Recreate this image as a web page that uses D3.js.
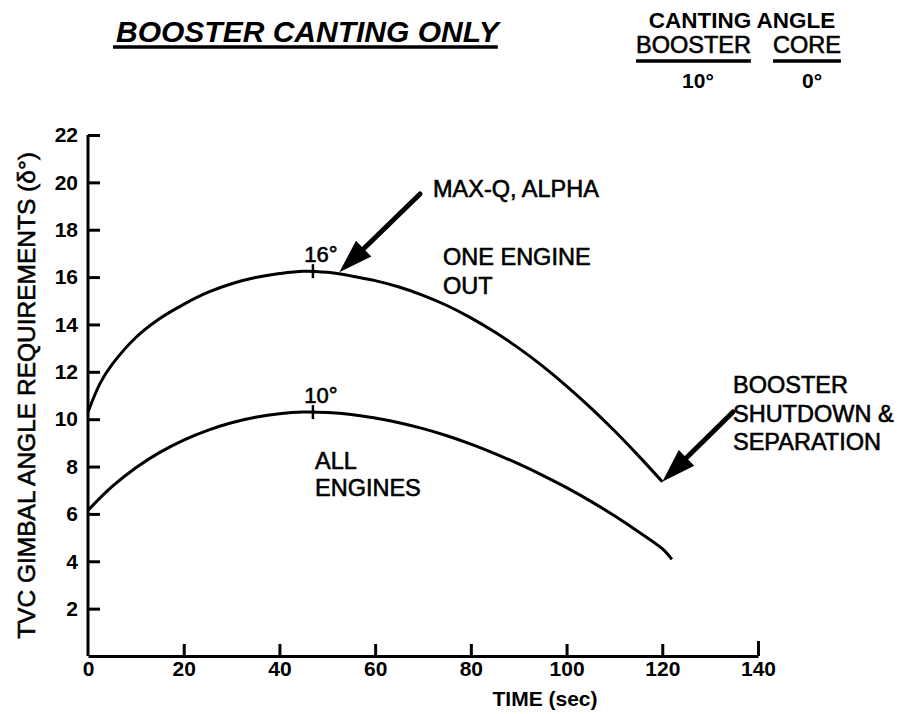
<!DOCTYPE html>
<html>
<head>
<meta charset="utf-8">
<script src="https://cdn.jsdelivr.net/npm/d3@7"></script>
<style>
  body { margin: 0; background: #fff; }
  svg { display: block; }
  text { font-family: "Liberation Sans", Arial, Helvetica, sans-serif; fill: #000; }
  .heavy { stroke: #000; stroke-width: 0.6px; }
</style>
</head>
<body>
<div id="chart"></div>
<script>
// ---- data ----
const timeOneOut = [0, 2.5, 5, 10, 15, 20, 25, 30, 35, 40, 45, 50, 55, 60, 65, 70, 75, 80, 85, 90, 95, 100, 105, 110, 115, 120];
const gimbalOneOut = [10.3, 11.5, 12.3, 13.45, 14.25, 14.85, 15.35, 15.72, 15.98, 16.15, 16.25, 16.2, 16.05, 15.85, 15.58, 15.23, 14.8, 14.28, 13.68, 13.0, 12.24, 11.4, 10.49, 9.51, 8.46, 7.36];

const timeAllEngines = [0, 5, 10, 15, 20, 25, 30, 35, 40, 45, 50, 55, 60, 65, 70, 75, 80, 85, 90, 95, 100, 105, 110, 115, 120, 122];
const gimbalAllEngines = [6.15, 7.15, 7.95, 8.6, 9.12, 9.53, 9.85, 10.08, 10.23, 10.3, 10.28, 10.2, 10.05, 9.85, 9.6, 9.3, 8.95, 8.55, 8.11, 7.63, 7.11, 6.54, 5.92, 5.25, 4.53, 4.08];

const xTicks = [0, 20, 40, 60, 80, 100, 120, 140];
const yTicks = [2, 4, 6, 8, 10, 12, 14, 16, 18, 20, 22];

// peak markers: [time, value, label]
const peaks = [
    [47, 16.25, "16°"],
    [47, 10.3, "10°"]
];

// ---- layout ----
const width = 901, height = 714;
const margin = { left: 88, right: 143, top: 135, bottom: 58 };

let svg = d3.select("#chart").append("svg")
    .attr("width", width)
    .attr("height", height);

let x = d3.scaleLinear().domain([0, 140]).range([margin.left, width - margin.right]);
let y = d3.scaleLinear().domain([0, 22]).range([height - margin.bottom, margin.top]);

const AXIS_W = 3;

// y axis (ticks point inward)
let yAxis = svg.append("g")
    .attr("transform", `translate(${x(0)},0)`)
    .call(d3.axisLeft(y).tickValues(yTicks).tickSizeInner(-12).tickSizeOuter(0).tickPadding(10));
yAxis.select(".domain").attr("stroke-width", AXIS_W).attr("d", `M0,${y(0)}V${y(22)}`);
yAxis.selectAll(".tick line").attr("stroke-width", AXIS_W);
yAxis.selectAll(".tick text")
    .style("font-size", "21px").style("font-weight", "bold")
    .style("font-family", "'Liberation Sans', Arial, sans-serif");

// x axis
let xAxis = svg.append("g")
    .attr("transform", `translate(0,${y(0)})`)
    .call(d3.axisBottom(x).tickValues(xTicks).tickSizeInner(-12).tickSizeOuter(0).tickPadding(5));
xAxis.select(".domain").attr("stroke-width", AXIS_W);
xAxis.selectAll(".tick line").attr("stroke-width", AXIS_W)
    .attr("y2", d => d === 140 ? -15 : (d === 0 ? 0 : -12));
xAxis.selectAll(".tick text")
    .style("font-size", "21px").style("font-weight", "bold")
    .style("font-family", "'Liberation Sans', Arial, sans-serif");

// axis titles
svg.append("text")
    .attr("class", "heavy")
    .attr("transform", `translate(35,${(y(0) + y(22)) / 2}) rotate(-90)`)
    .attr("text-anchor", "middle")
    .style("font-size", "24.5px")
    .text("TVC GIMBAL ANGLE REQUIREMENTS (δ°)");

svg.append("text")
    .attr("x", 545).attr("y", 706)
    .attr("text-anchor", "middle")
    .style("font-size", "21px").style("font-weight", "bold")
    .text("TIME (sec)");

// ---- curves ----
let line = d3.line()
    .x(d => x(d[0]))
    .y(d => y(d[1]))
    .curve(d3.curveCatmullRom);

let upper = timeOneOut.map((t, i) => [t, gimbalOneOut[i]]);
let lower = timeAllEngines.map((t, i) => [t, gimbalAllEngines[i]]);

svg.append("g").selectAll(".curve")
    .data([upper, lower])
    .enter()
    .append("path")
    .attr("class", "curve")
    .attr("d", line)
    .attr("fill", "none")
    .attr("stroke", "black")
    .attr("stroke-width", 3);

// peak tick marks + labels
let peak = svg.append("g").selectAll(".peak").data(peaks).enter().append("g");
peak.append("line")
    .attr("x1", d => x(d[0])).attr("x2", d => x(d[0]))
    .attr("y1", d => y(d[1]) - 7).attr("y2", d => y(d[1]) + 7)
    .attr("stroke", "black").attr("stroke-width", 2.5);
peak.append("text")
    .attr("class", "heavy")
    .attr("x", d => x(d[0]) + 8).attr("y", d => y(d[1]) - 9)
    .attr("text-anchor", "middle")
    .style("font-size", "22px")
    .text(d => d[2]);

// ---- annotations ----
function multiLine(lines, x0, y0, lh, size) {
    let t = svg.append("text").attr("class", "heavy")
        .attr("x", x0).attr("y", y0).style("font-size", size + "px");
    lines.forEach((s, i) => t.append("tspan").attr("x", x0).attr("dy", i ? lh : 0).text(s));
    return t;
}

multiLine(["MAX-Q, ALPHA"], 433, 197, 0, 23.5);
multiLine(["ONE ENGINE", "OUT"], 443, 265, 29, 23.5);
multiLine(["ALL", "ENGINES"], 315, 469, 27, 23.5);
multiLine(["BOOSTER", "SHUTDOWN &", "SEPARATION"], 733, 393, 28.5, 23.5);

// arrows
function arrow(x1, y1, x2, y2) {
    let ang = Math.atan2(y2 - y1, x2 - x1);
    let headLen = 34, headW = 11;
    let bx = x2 - headLen * Math.cos(ang), by = y2 - headLen * Math.sin(ang);
    svg.append("line")
        .attr("x1", x1).attr("y1", y1).attr("x2", bx).attr("y2", by)
        .attr("stroke", "black").attr("stroke-width", 5).attr("stroke-linecap", "round");
    let px = -Math.sin(ang), py = Math.cos(ang);
    svg.append("path")
        .attr("d", `M${x2},${y2}L${bx + px * headW},${by + py * headW}L${bx - px * headW},${by - py * headW}Z`)
        .attr("fill", "black");
}
arrow(420, 194, x(52.5), y(16.2));
arrow(733, 412, x(120), y(7.36));

// ---- titles ----
function underline(textSel, yy, sw, x1, x2) {
    let bb = textSel.node().getBBox();
    svg.append("line")
        .attr("x1", x1 != null ? x1 : bb.x).attr("x2", x2 != null ? x2 : bb.x + bb.width)
        .attr("y1", yy).attr("y2", yy)
        .attr("stroke", "black").attr("stroke-width", sw);
}

let title = svg.append("text")
    .attr("x", 116).attr("y", 42)
    .style("font-size", "30px").style("font-weight", "bold").style("font-style", "italic")
    .text("BOOSTER CANTING ONLY");
let tb = title.node().getBBox();
underline(title, 47, 3.5, tb.x - 3, tb.x + tb.width - 4);

svg.append("text")
    .attr("x", 742).attr("y", 28)
    .attr("text-anchor", "middle")
    .style("font-size", "22.5px").style("font-weight", "bold")
    .text("CANTING ANGLE");

let hBooster = svg.append("text")
    .attr("class", "heavy")
    .attr("x", 636).attr("y", 53)
    .style("font-size", "23.5px")
    .text("BOOSTER");
let hCore = svg.append("text")
    .attr("class", "heavy")
    .attr("x", 773).attr("y", 53)
    .style("font-size", "23.5px")
    .text("CORE");
underline(hBooster, 61, 3.5);
underline(hCore, 61, 3.5);

svg.append("text").attr("x", 698).attr("y", 88).attr("text-anchor", "middle")
    .style("font-size", "21px").style("font-weight", "bold").text("10°");
svg.append("text").attr("x", 812).attr("y", 88).attr("text-anchor", "middle")
    .style("font-size", "21px").style("font-weight", "bold").text("0°");
</script>
</body>
</html>
